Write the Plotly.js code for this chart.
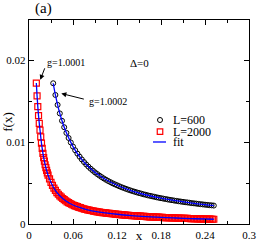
<!DOCTYPE html>
<html>
<head>
<meta charset="utf-8">
<script src="https://cdn.plot.ly/plotly-3.0.1.min.js"></script>
<style>html,body{margin:0;padding:0;background:#fff;}#chart{width:258px;height:243px;}</style>
</head>
<body>
<div id="chart"></div>
<script>
// L=600 data (black circles)
const x600 = [0.033,0.036,0.039,0.042,0.045,0.048,0.051,0.054,0.057,0.060,0.063,0.066,0.069,0.072,0.075,0.078,0.081,0.084,0.087,0.090,0.093,0.096,0.099,0.102,0.105,0.108,0.111,0.114,0.117,0.120,0.123,0.126,0.129,0.132,0.135,0.138,0.141,0.144,0.147,0.150,0.153,0.156,0.159,0.162,0.165,0.168,0.171,0.174,0.177,0.180,0.183,0.186,0.189,0.192,0.195,0.198,0.201,0.204,0.207,0.210,0.213,0.216,0.219,0.222,0.225,0.228,0.231,0.234,0.237,0.240,0.243,0.246,0.249,0.252];
const f600 = [0.01718,0.01575,0.01454,0.01350,0.01260,0.01181,0.01112,0.01050,0.00995,0.00945,0.00900,0.00859,0.00822,0.00788,0.00756,0.00727,0.00700,0.00675,0.00652,0.00630,0.00610,0.00591,0.00573,0.00556,0.00540,0.00525,0.00511,0.00497,0.00485,0.00473,0.00461,0.00450,0.00440,0.00430,0.00420,0.00411,0.00402,0.00394,0.00386,0.00378,0.00371,0.00363,0.00357,0.00350,0.00344,0.00338,0.00332,0.00326,0.00320,0.00315,0.00310,0.00305,0.00300,0.00295,0.00291,0.00286,0.00282,0.00278,0.00274,0.00270,0.00266,0.00263,0.00259,0.00255,0.00252,0.00249,0.00245,0.00242,0.00239,0.00236,0.00233,0.00230,0.00228,0.00225];

// L=2000 data (red squares)
const x2000 = [0.010,0.011,0.012,0.013,0.014,0.015,0.016,0.017,0.018,0.019,0.020,0.021,0.022,0.023,0.024,0.025,
  0.026,0.028,0.030,0.032,0.034,0.036,0.038,0.040,0.042,0.044,0.046,0.048,0.050,0.052,0.054,0.056,0.058,0.060,
  0.062,0.064,0.066,0.068,0.070,0.072,0.074,0.076,0.078,0.080,0.082,0.084,0.086,0.088,0.090,0.092,0.094,0.096,0.098,0.100,
  0.102,0.104,0.106,0.108,0.110,0.112,0.114,0.116,0.118,0.120,0.122,0.124,0.126,0.128,0.130,0.132,0.134,0.136,0.138,0.140,
  0.142,0.144,0.146,0.148,0.150,0.152,0.154,0.156,0.158,0.160,0.162,0.164,0.166,0.168,0.170,0.172,0.174,0.176,0.178,0.180,
  0.182,0.184,0.186,0.188,0.190,0.192,0.194,0.196,0.198,0.200,0.202,0.204,0.206,0.208,0.210,0.212,0.214,0.216,0.218,0.220,
  0.222,0.224,0.226,0.228,0.230,0.232,0.234,0.236,0.238,0.240,0.242,0.244,0.246,0.248,0.250,0.252];
const f2000 = [0.01720,0.01564,0.01433,0.01323,0.01229,0.01147,0.01063,0.00988,0.00922,0.00863,0.00810,0.00767,0.00723,0.00687,0.00654,0.00624,
  0.00596,0.00550,0.00507,0.00472,0.00438,0.00411,0.00384,0.00363,0.00344,0.00327,0.00311,0.00297,0.00284,0.00271,0.00260,0.00250,0.00241,0.00232,
  0.00224,0.00217,0.00211,0.00204,0.00199,0.00192,0.00186,0.00182,0.00177,0.00173,0.00169,0.00165,0.00162,0.00158,0.00155,0.00152,0.00149,0.00146,0.00143,0.00140,
  0.00138,0.00136,0.00133,0.00131,0.00129,0.00127,0.00125,0.00122,0.00121,0.00119,0.00117,0.00115,0.00113,0.00112,0.00110,0.00109,0.00107,0.00106,0.00104,0.00103,
  0.00102,0.00101,0.00099,0.00098,0.00097,0.00095,0.00094,0.00093,0.00092,0.00091,0.00090,0.00088,0.00087,0.00087,0.00086,0.00085,0.00084,0.00083,0.00082,0.00081,
  0.00080,0.00079,0.00078,0.00078,0.00077,0.00076,0.00075,0.00074,0.00074,0.00073,0.00072,0.00072,0.00071,0.00070,0.00070,0.00069,0.00068,0.00068,0.00067,0.00066,
  0.00066,0.00065,0.00065,0.00064,0.00063,0.00063,0.00062,0.00062,0.00061,0.00061,0.00060,0.00060,0.00059,0.00059,0.00058,0.00058];

// fit curves (blue)
const fitX600 = [0.033,0.036,0.040,0.045,0.050,0.060,0.070,0.080,0.100,0.120,0.140,0.160,0.180,0.200,0.220,0.240,0.252];
const fitY600 = [0.01718,0.01575,0.01418,0.01260,0.01134,0.00945,0.00810,0.00709,0.00567,0.00473,0.00405,0.00354,0.00315,0.00284,0.00258,0.00236,0.00225];
const fitX2000 = [0.010,0.011,0.012,0.013,0.014,0.015,0.017,0.020,0.023,0.026,0.030,0.035,0.040,0.046,0.052,0.060,0.070,0.080,0.092,0.104,0.120,0.140,0.160,0.180,0.200,0.220,0.240,0.252];
const fitY2000 = [0.01720,0.01564,0.01433,0.01323,0.01229,0.01147,0.00988,0.00810,0.00687,0.00596,0.00507,0.00423,0.00363,0.00311,0.00271,0.00232,0.00199,0.00173,0.00151,0.00136,0.00119,0.00103,0.00091,0.00081,0.00073,0.00066,0.00061,0.00058];

// ticks
const xTickVals = [0,0.06,0.12,0.18,0.24,0.3];
const xTickText = ['0','0.06','0.12','0.18','0.24','0.3'];
const yTickVals = [0,0.01,0.02];
const yTickText = ['0','0.01','0.02'];

// legend labels
const seriesNames = ['L=600','L=2000','fit'];

const SERIF = 'Liberation Serif, Times New Roman, serif';
const C600 = '#000000', C2000 = '#ff0000', CFIT = '#0000ff';

const traces = [
  {x:x600, y:f600, type:'scatter', mode:'markers', name:seriesNames[0],
   marker:{symbol:'circle-open', size:5, color:C600, line:{width:1}}},
  {x:x2000, y:f2000, type:'scatter', mode:'markers', name:seriesNames[1],
   marker:{symbol:'square-open', size:6, color:C2000, line:{width:1.2}}},
  {x:fitX600, y:fitY600, type:'scatter', mode:'lines', name:seriesNames[2],
   line:{color:CFIT, width:1.3, shape:'spline'}},
  {x:fitX2000, y:fitY2000, type:'scatter', mode:'lines', name:seriesNames[2],
   line:{color:CFIT, width:1.3, shape:'spline'}}
];

// legend (key column + text column), in paper coordinates
const legKeyX = 0.5955, legTextX = 0.647;
const legRowsY = [0.5098, 0.4525, 0.402];
const kx = 0.0114, ky = 0.0123, sx = 0.0125, sy = 0.0135;

const legendShapes = [
  {type:'circle', xref:'paper', yref:'paper', x0:legKeyX-kx, x1:legKeyX+kx, y0:legRowsY[0]-ky, y1:legRowsY[0]+ky,
   line:{color:C600, width:1}},
  {type:'rect', xref:'paper', yref:'paper', x0:legKeyX-sx, x1:legKeyX+sx, y0:legRowsY[1]-sy, y1:legRowsY[1]+sy,
   line:{color:C2000, width:1.2}},
  {type:'line', xref:'paper', yref:'paper', x0:legKeyX-0.0318, x1:legKeyX+0.0272, y0:legRowsY[2], y1:legRowsY[2],
   line:{color:CFIT, width:1.3}}
];

const legendTexts = seriesNames.map((t, i) => ({
  text:t, xref:'paper', yref:'paper', x:legTextX, y:legRowsY[i], xanchor:'left', yanchor:'middle',
  showarrow:false, font:{family:SERIF, size:12, color:'#000'}
}));

const axisCommon = {
  showline:true, linecolor:'#000', linewidth:1.3, mirror:'allticks',
  ticks:'inside', ticklen:5, tickwidth:1, tickcolor:'#000',
  showgrid:false, zeroline:false, tickmode:'array',
  tickfont:{family:SERIF, size:11, color:'#000'}
};

const layout = {
  width:258, height:243,
  margin:{l:29, r:9, t:20, b:19},
  paper_bgcolor:'#fff', plot_bgcolor:'#fff',
  font:{family:SERIF, color:'#000'},
  showlegend:false,
  xaxis:Object.assign({}, axisCommon, {
    range:[0,0.3], tickvals:xTickVals, ticktext:xTickText,
    minor:{dtick:0.03, tick0:0, ticks:'inside', ticklen:3, tickcolor:'#000', showgrid:false},
    title:{text:'x', font:{family:SERIF, size:13}, standoff:0}
  }),
  yaxis:Object.assign({}, axisCommon, {
    range:[0,0.0249], tickvals:yTickVals, ticktext:yTickText,
    minor:{dtick:0.005, tick0:0, ticks:'inside', ticklen:3, tickcolor:'#000', showgrid:false},
    title:{text:'f(x)', font:{family:SERIF, size:13}, standoff:2}
  }),
  shapes:legendShapes,
  annotations:[
    {text:'(a)', xref:'paper', yref:'paper', x:0.065, y:1.0587, showarrow:false,
     font:{family:SERIF, size:15}, xanchor:'center', yanchor:'middle'},
    {text:'Δ=0', xref:'paper', yref:'paper', x:0.501, y:0.788, showarrow:false,
     font:{family:SERIF, size:11}, xanchor:'center', yanchor:'middle'},
    {text:'g=1.0001', xref:'paper', yref:'paper', x:0.167, y:0.7895, showarrow:false,
     font:{family:SERIF, size:10}, xanchor:'center', yanchor:'middle'},
    {text:'g=1.0002', xref:'paper', yref:'paper', x:0.358, y:0.600, showarrow:false,
     font:{family:SERIF, size:10}, xanchor:'center', yanchor:'middle'},
    {text:'', x:0.0154, y:0.0176, xref:'x', yref:'y', showarrow:true, ax:5, ay:-13,
     arrowhead:2, arrowsize:1, arrowwidth:1, arrowcolor:'#000'},
    {text:'', x:0.0441, y:0.01593, xref:'x', yref:'y', showarrow:true, ax:24, ay:6,
     arrowhead:2, arrowsize:1, arrowwidth:1, arrowcolor:'#000'}
  ].concat(legendTexts)
};

Plotly.newPlot('chart', traces, layout, {displayModeBar:false, staticPlot:true});
</script>
</body>
</html>
